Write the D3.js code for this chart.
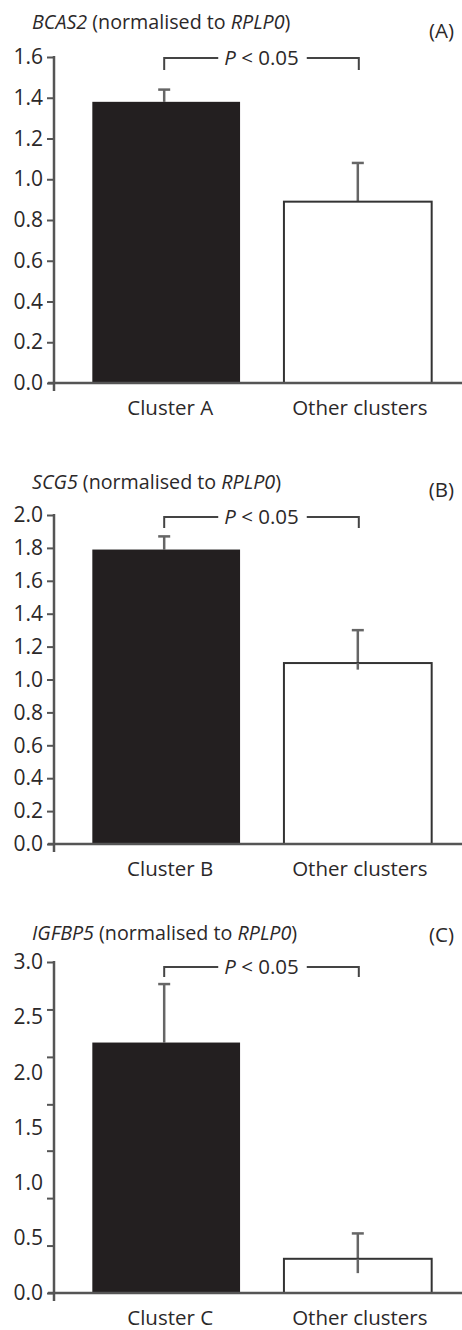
<!DOCTYPE html>
<html>
<head>
<meta charset="utf-8">
<script src="https://cdn.jsdelivr.net/npm/d3@7"></script>
<style>
  body { margin: 0; background: #fff; }
  svg { display: block; font-family: 'Open Sans', 'Noto Sans', sans-serif; }
  .lbl { fill: #2b2829; font-size: 20.5px; }
  .title { font-size: 19.7px; }
  .tick line { stroke: #555; stroke-width: 2px; }
  .tick text { fill: #2b2829; font-size: 21px; font-family: 'Open Sans', 'Noto Sans', sans-serif; }
</style>
</head>
<body>
<svg id="chart" width="462" height="1330"></svg>
<script>
// ---- data ----
var genes = ['BCAS2', 'SCG5', 'IGFBP5'];
var panelTags = ['(A)', '(B)', '(C)'];

var categoriesA = ['Cluster A', 'Other clusters'];
var categoriesB = ['Cluster B', 'Other clusters'];
var categoriesC = ['Cluster C', 'Other clusters'];

var meansA = [1.38, 0.89];
var errHighA = [1.44, 1.08];
var errLowA = [1.38, 0.89];

var meansB = [1.79, 1.10];
var errHighB = [1.87, 1.30];
var errLowB = [1.79, 1.06];

var meansC = [2.27, 0.31];
var errHighC = [2.80, 0.54];
var errLowC = [2.27, 0.18];

var yMaxes = [1.6, 2.0, 3.0];
var tickLabelsA = [0, 0.2, 0.4, 0.6, 0.8, 1.0, 1.2, 1.4, 1.6];
var tickLabelsB = [0, 0.2, 0.4, 0.6, 0.8, 1.0, 1.2, 1.4, 1.6, 1.8, 2.0];
var tickLabelsC = [0, 0.5, 1.0, 1.5, 2.0, 2.5, 3.0];
// panel C in the original has its tick marks out of step with the labels
var tickMarksC = [0, 0.43, 0.86, 1.29, 1.71, 2.14, 2.57, 3.0];

var pText = 'P < 0.05';

// ---- layout ----
var svg = d3.select('#chart');
var axisX = 54;
var panels = [
  { cats: categoriesA, mean: meansA, hi: errHighA, lo: errLowA, labels: tickLabelsA, marks: tickLabelsA,
    y0: 383, y1: 57, titleY: 29, tagY: 38, bracketTop: 58, bracketBot: 70, xLabY: 415 },
  { cats: categoriesB, mean: meansB, hi: errHighB, lo: errLowB, labels: tickLabelsB, marks: tickLabelsB,
    y0: 844, y1: 515, titleY: 489, tagY: 497, bracketTop: 517, bracketBot: 528, xLabY: 876 },
  { cats: categoriesC, mean: meansC, hi: errHighC, lo: errLowC, labels: tickLabelsC, marks: tickMarksC,
    y0: 1293, y1: 962, titleY: 940, tagY: 942, bracketTop: 967, bracketBot: 977, xLabY: 1325 }
];

panels.forEach(function (p, k) {
  var g = svg.append('g');
  var data = p.cats.map(function (c, i) {
    return { cat: c, mean: p.mean[i], hi: p.hi[i], lo: p.lo[i], idx: i };
  });

  var x = d3.scaleBand().domain(p.cats).range([axisX, 470]).paddingInner(0.229).paddingOuter(0.2);
  var y = d3.scaleLinear().domain([0, yMaxes[k]]).range([p.y0, p.y1]);

  // title
  var t = g.append('text').attr('class', 'lbl title').attr('x', 32).attr('y', p.titleY);
  t.append('tspan').style('font-style', 'italic').text(genes[k]);
  t.append('tspan').text(' (normalised to ');
  t.append('tspan').style('font-style', 'italic').text('RPLP0');
  t.append('tspan').text(')');

  g.append('text').attr('class', 'lbl').attr('x', 454).attr('y', p.tagY)
    .attr('text-anchor', 'end').text(panelTags[k]);

  // error bars (drawn first so the black bar hides the lower part)
  data.forEach(function (d) {
    var cx = x(d.cat) + x.bandwidth() / 2 - (d.idx === 0 ? 2 : 0);
    g.append('line').attr('x1', cx).attr('x2', cx)
      .attr('y1', y(d.hi)).attr('y2', y(d.lo))
      .attr('stroke', '#666').attr('stroke-width', 2.5);
    g.append('line').attr('x1', cx - 6).attr('x2', cx + 6)
      .attr('y1', y(d.hi)).attr('y2', y(d.hi))
      .attr('stroke', '#666').attr('stroke-width', 2.5);
  });

  // bars
  g.selectAll('rect.bar').data(data).enter().append('rect')
    .attr('class', 'bar')
    .attr('x', function (d) { return x(d.cat); })
    .attr('y', function (d) { return y(d.mean); })
    .attr('width', x.bandwidth())
    .attr('height', function (d) { return y(0) - y(d.mean); })
    .attr('fill', function (d) { return d.idx === 0 ? '#231f20' : '#fff'; })
    .attr('stroke', function (d) { return d.idx === 0 ? 'none' : '#333'; })
    .attr('stroke-width', 2);

  // redraw white-bar error line over the fill where it dips inside
  data.filter(function (d) { return d.idx === 1 && d.lo < d.mean; }).forEach(function (d) {
    var cx = x(d.cat) + x.bandwidth() / 2;
    g.append('line').attr('x1', cx).attr('x2', cx)
      .attr('y1', y(d.mean)).attr('y2', y(d.lo))
      .attr('stroke', '#666').attr('stroke-width', 2.5);
  });

  // y axis: marks and labels
  var markAxis = d3.axisLeft(y).tickValues(p.marks).tickSize(7).tickFormat('');
  var gm = g.append('g').attr('transform', 'translate(' + axisX + ',0)').call(markAxis);
  gm.select('.domain').remove();
  var labAxis = d3.axisLeft(y).tickValues(p.labels).tickSize(0).tickPadding(11)
    .tickFormat(d3.format('.1f'));
  var gl = g.append('g').attr('transform', 'translate(' + axisX + ',0)').call(labAxis);
  gl.select('.domain').remove();
  gl.selectAll('.tick line').remove();
  g.append('line').attr('x1', axisX).attr('x2', axisX)
    .attr('y1', y(yMaxes[k]) - 1).attr('y2', y(0) + 8)
    .attr('stroke', '#555').attr('stroke-width', 2.5);

  // x axis
  g.append('line').attr('x1', axisX - 6).attr('x2', 462)
    .attr('y1', y(0)).attr('y2', y(0))
    .attr('stroke', '#555').attr('stroke-width', 2.5);
  g.selectAll('text.xl').data(data).enter().append('text')
    .attr('class', 'lbl xl')
    .attr('x', function (d) { return x(d.cat) + x.bandwidth() / 2 + (d.idx === 0 ? 4 : 2); })
    .attr('y', p.xLabY)
    .attr('text-anchor', 'middle')
    .text(function (d) { return d.cat; });

  // significance bracket
  var bx1 = x(p.cats[0]) + x.bandwidth() / 2 - 2;
  var bx2 = x(p.cats[1]) + x.bandwidth() / 2 + 1;
  var mid = (bx1 + bx2) / 2;
  var pt = g.append('text').attr('class', 'lbl').attr('x', mid).attr('y', p.bracketTop + 7)
    .attr('text-anchor', 'middle');
  pt.append('tspan').style('font-style', 'italic').text('P');
  pt.append('tspan').text(pText.slice(1));
  var tw = pt.node().getComputedTextLength();
  var bracket = d3.path();
  bracket.moveTo(bx1, p.bracketBot);
  bracket.lineTo(bx1, p.bracketTop);
  bracket.lineTo(mid - tw / 2 - 6, p.bracketTop);
  bracket.moveTo(mid + tw / 2 + 8, p.bracketTop);
  bracket.lineTo(bx2, p.bracketTop);
  bracket.lineTo(bx2, p.bracketBot);
  g.append('path').attr('d', bracket.toString())
    .attr('fill', 'none').attr('stroke', '#444').attr('stroke-width', 2);
});
</script>
</body>
</html>
